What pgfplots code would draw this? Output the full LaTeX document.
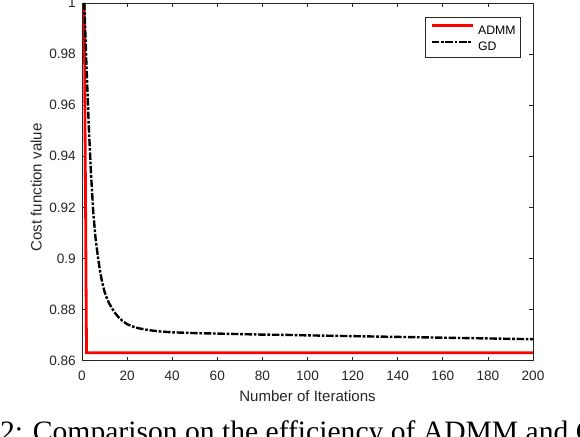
\documentclass[border=0pt]{standalone}
\usepackage{fontspec}
\setmainfont{Liberation Sans}
\newfontfamily\capfont{Liberation Serif}
\usepackage{pgfplots}
\pgfplotsset{compat=1.18}
\definecolor{axgray}{gray}{0.15}
\begin{document}
\begin{tikzpicture}
\begin{axis}[
  at={(0,0)}, anchor=south west,
  scale only axis, width=338.25pt, height=268.3pt,
  xmin=0, xmax=200, ymin=0.86, ymax=1,
  xtick={0,20,40,60,80,100,120,140,160,180,200},
  xticklabels={0,20,40,60,80,100,120,140,160,180,200},
  ytick={0.86,0.88,0.9,0.92,0.94,0.96,0.98,1},
  yticklabels={0.86,0.88,0.9,0.92,0.94,0.96,0.98,1},
  axis line style={axgray, line width=0.5pt},
  tick style={axgray, line width=0.5pt},
  major tick length=3pt, tick align=inside,
  ticklabel style={font=\fontsize{10.2}{12}\selectfont, text=axgray, inner sep=0pt},
  xticklabel style={anchor=base, yshift=-15pt},
  yticklabel style={anchor=east, xshift=-4.5pt},
  xlabel={Number of Iterations},
  xlabel style={at={(axis description cs:0.5,-0.1146)}, anchor=base, inner sep=0pt,
    font=\fontsize{11.3}{13}\selectfont, text=axgray},
  ylabel={Cost function value},
  ylabel style={at={(axis description cs:-0.0893,0.484)}, anchor=base, inner sep=0pt,
    font=\fontsize{11.3}{13}\selectfont, text=axgray},
  legend style={at={(1,1)}, anchor=north east, xshift=-9pt, yshift=-10.5pt,
    draw=axgray, line width=0.5pt, fill=white,
    font=\fontsize{9.2}{11}\selectfont,
    inner xsep=3.75pt, inner ysep=5pt, row sep=4.9pt, column sep=3.2pt,
    nodes={inner sep=0pt, text height=6.6pt, text depth=0pt}},
  legend cell align=left,
  legend image code/.code={\draw[#1] (0pt,3.3pt) -- (30.5pt,3.3pt);},
]
\addplot[red, line width=2.1pt] coordinates {(1,1) (2,0.8631) (200,0.8631)};
\addlegendentry{ADMM}
\addplot[black, line width=1.8pt, dash pattern=on 5.6pt off 1.3pt on 2pt off 1.3pt] coordinates {
(1,1.0) (2,0.975) (3,0.952) (4,0.933) (5,0.918) (6,0.908) (7,0.901) (8,0.895)
(9,0.8905) (10,0.887) (11,0.8845) (12,0.8825) (13,0.881) (14,0.8795) (15,0.8783)
(16,0.8772) (18,0.8755) (20,0.8743) (22,0.8735) (25,0.8727) (30,0.8719) (35,0.8714)
(40,0.8711) (50,0.8708) (60,0.8706) (70,0.8704) (80,0.8702) (90,0.8701) (100,0.8699)
(120,0.8696) (140,0.8693) (160,0.8690) (180,0.8687) (200,0.8684)};
\addlegendentry{GD}
\end{axis}
\node[anchor=base west, inner sep=0pt, font=\capfont\fontsize{22.2}{24}\selectfont]
  at (-37pt,-60.5pt) {\llap{Figure 2: }Comparison on the efficiency of ADMM and GD.};
\pgfresetboundingbox
\useasboundingbox (-61.5pt,-56.5pt) rectangle (373.5pt,270.5pt);
\end{tikzpicture}
\end{document}
